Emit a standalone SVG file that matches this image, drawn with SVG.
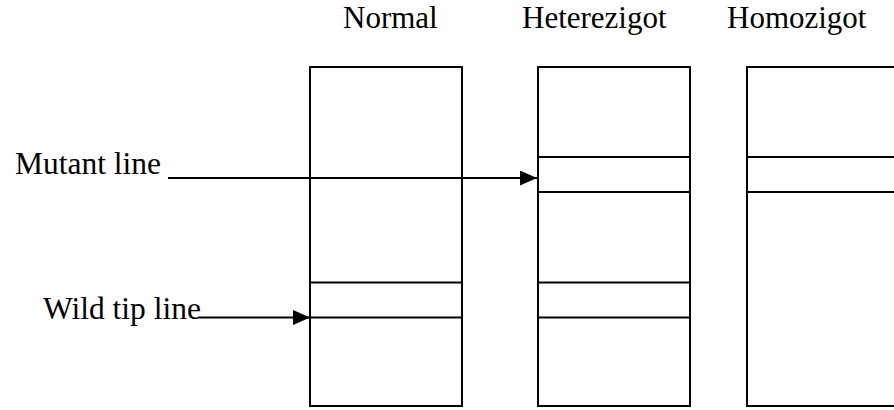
<svg xmlns="http://www.w3.org/2000/svg" width="894" height="410" viewBox="0 0 894 410">
<style>
text{font-family:"Liberation Serif","Times New Roman",serif;font-size:31.5px;fill:#000}
.title{font-size:31px}
.box{fill:#fff;stroke:#000;stroke-width:2}
.band{stroke:#000;stroke-width:2}
.conn{stroke:#000;stroke-width:2;fill:none}
</style>
<defs>
<marker id="ah" viewBox="0 0 17 15" refX="17" refY="7.5" markerWidth="17" markerHeight="15" markerUnits="userSpaceOnUse" orient="auto">
<path d="M0,0 L17,7.5 L0,15 Z" fill="#000"/>
</marker>
</defs>
<rect width="894" height="410" fill="#fff"/>
<g id="normal">
<rect class="box" x="310" y="67" width="152" height="339"/>
<line class="band" x1="310" y1="282.5" x2="462" y2="282.5"/>
<line class="band" x1="310" y1="317.5" x2="462" y2="317.5"/>
<text class="title" x="343" y="27.8">Normal</text>
</g>
<g id="heterezigot">
<rect class="box" x="538" y="67" width="152" height="339"/>
<line class="band" x1="538" y1="157" x2="690" y2="157"/>
<line class="band" x1="538" y1="192" x2="690" y2="192"/>
<line class="band" x1="538" y1="282.5" x2="690" y2="282.5"/>
<line class="band" x1="538" y1="317.5" x2="690" y2="317.5"/>
<text class="title" x="522" y="27.8">Heterezigot</text>
</g>
<g id="homozigot">
<rect class="box" x="747" y="67" width="152" height="339"/>
<line class="band" x1="747" y1="157" x2="899" y2="157"/>
<line class="band" x1="747" y1="192" x2="899" y2="192"/>
<text class="title" x="727" y="27.8">Homozigot</text>
</g>
<g id="mutant-label"><text x="15" y="173.5">Mutant line</text></g>
<g id="wild-label"><text x="43" y="319">Wild tip line</text></g>
<g id="connectors">
<line class="conn" x1="168" y1="178" x2="537" y2="178" marker-end="url(#ah)"/>
<line class="conn" x1="198" y1="317.5" x2="310" y2="317.5" marker-end="url(#ah)"/>
</g>
</svg>
